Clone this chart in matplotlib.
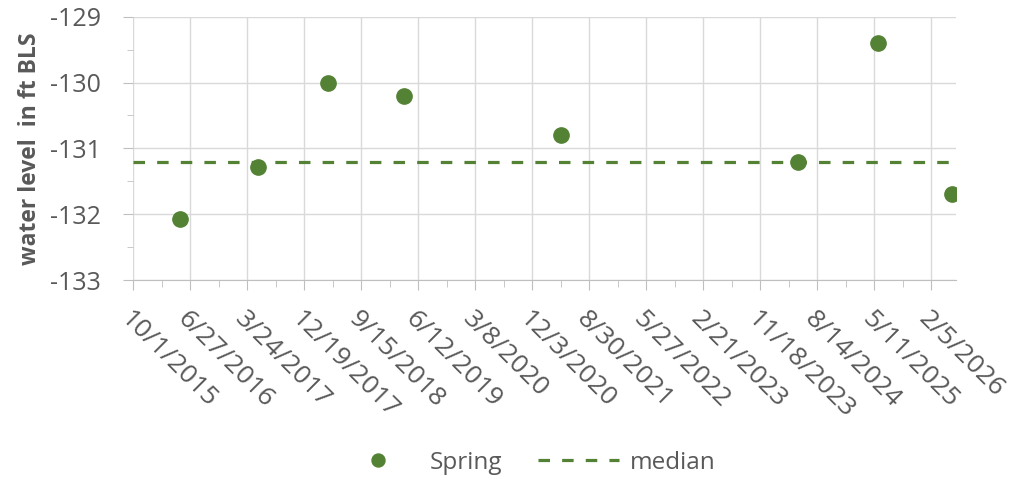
import numpy as np
import pandas as pd
import matplotlib
matplotlib.use("Agg")
import matplotlib.pyplot as plt

spring_dates = pd.to_datetime(["2016-05-11", "2017-05-16", "2018-04-13", "2019-04-07",
                               "2021-04-17", "2024-05-17", "2025-05-27", "2026-05-16"])
spring_level = [-132.08, -131.29, -130.0, -130.2, -130.79, -131.2, -129.4, -131.7]
median_level = -131.2

x_start = pd.Timestamp("2015-10-01")
x_end = pd.Timestamp("2026-06-02")
tick_step_days = 270

plt.rcParams["font.family"] = ["Open Sans", "DejaVu Sans"]
grey = "#595959"
green = "#548235"

fig = plt.figure(figsize=(10.25, 4.82), dpi=100)
ax = fig.add_axes([133 / 1025, 1 - 280 / 482, (956 - 133) / 1025, (280 - 16.7) / 482])

ax.plot(spring_dates, spring_level, "o", color=green, markersize=11, label="Spring", zorder=3)
ax.plot([x_start, x_end - pd.Timedelta(days=30)], [median_level, median_level], "--",
        color=green, lw=2.3, dashes=(3.6, 3.8), label="median", zorder=2)

ticks = pd.date_range(x_start, periods=15, freq=f"{tick_step_days}D")
minor = pd.date_range(x_start + pd.Timedelta(days=135), periods=15, freq=f"{tick_step_days}D")
ax.set_xticks(ticks)
ax.set_xticks(minor, minor=True)
ax.set_xticklabels([f"{d.month}/{d.day}/{d.year}" for d in ticks], rotation=-45,
                   ha="left", va="top", rotation_mode="anchor", fontsize=19, color=grey)
ax.set_xlim(x_start, x_end)

ax.set_ylim(-133, -129)
ax.set_yticks([-133, -132, -131, -130, -129])
ax.set_yticks(np.arange(-132.5, -129, 1.0), minor=True)
ax.set_yticklabels(["-133", "-132", "-131", "-130", "-129"], fontsize=18, color=grey)
ax.set_ylabel("water level  in ft BLS", fontsize=16.5, fontweight="bold", color=grey, labelpad=6)

ax.grid(True, which="major", color="#d9d9d9", lw=1)
for s in ["top", "right", "left"]:
    ax.spines[s].set_visible(False)
ax.spines["bottom"].set_color("#bfbfbf")
ax.tick_params(axis="x", which="major", length=7, color="#bfbfbf", pad=12)
ax.tick_params(axis="x", which="minor", length=5, color="#bfbfbf")
ax.tick_params(axis="y", which="major", length=7, color="#bfbfbf", pad=16)
ax.tick_params(axis="y", which="minor", length=4, color="#bfbfbf")

leg = fig.legend(loc="center", bbox_to_anchor=(0.514, 1 - 463 / 482), ncol=2, frameon=False,
                 fontsize=17.5, handlelength=3.3, columnspacing=1.5, handletextpad=0.45,
                 markerscale=0.85)
for t in leg.get_texts():
    t.set_color(grey)

fig.savefig("out.png", dpi=100)
